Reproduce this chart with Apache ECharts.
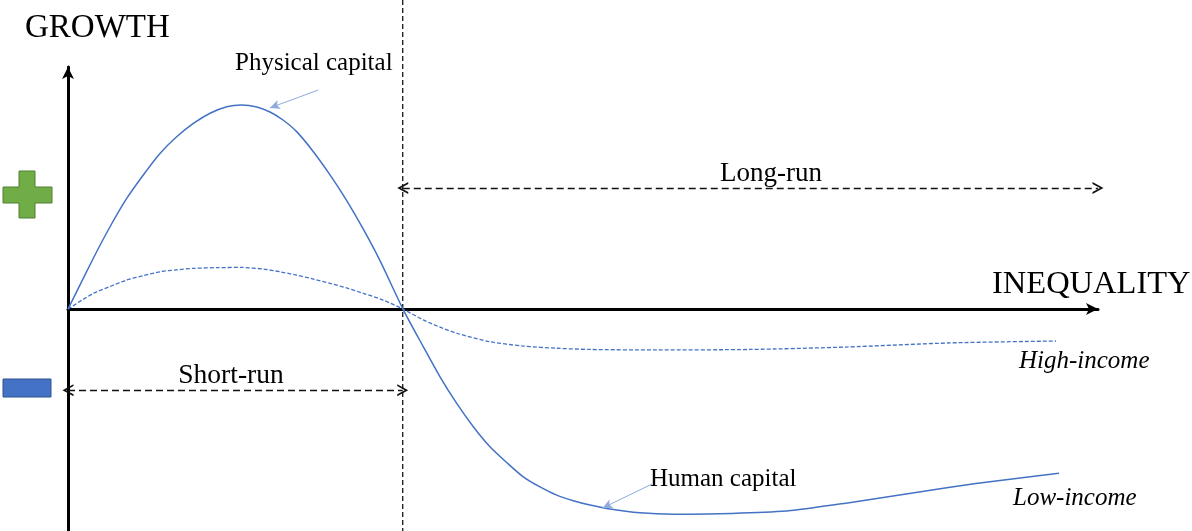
<!DOCTYPE html>
<html><head><meta charset="utf-8">
<script src="https://cdn.jsdelivr.net/npm/echarts@6/dist/echarts.min.js"></script>
<style>html,body{margin:0;padding:0;background:#fff}#c{width:1192px;height:531px}</style>
</head><body><div id="c"></div>
<script>
// Physical / human capital curve (solid) — low-income
const solidX = [0, 2.46, 4.08, 5.70, 7.31, 8.93, 10.55, 12.17, 13.79, 15.41, 16.86, 18.33, 19.61, 20.87, 22.2, 23.82, 25.44, 27.06, 28.67, 30.29, 32.52, 34.5, 36.12, 37.74, 39.35, 40.97, 42.59, 44.2, 45.83, 47.45, 49.06, 50.68, 52.3, 55.53, 58.77, 62.01, 66.21, 70.49, 75.53, 80.58, 85.63, 90.68, 96.21];
const solidY = [0, 2.10, 3.40, 4.57, 5.54, 6.43, 7.12, 7.67, 8.09, 8.36, 8.43, 8.35, 8.14, 7.81, 7.33, 6.50, 5.54, 4.48, 3.30, 2.00, 0, -1.56, -2.80, -3.90, -4.86, -5.69, -6.34, -6.93, -7.35, -7.69, -7.92, -8.10, -8.24, -8.42, -8.48, -8.47, -8.42, -8.31, -8.02, -7.69, -7.36, -7.07, -6.78];
// Dashed curve — high-income
const dashX = [0, 2.46, 4.08, 5.70, 7.31, 8.93, 10.55, 12.17, 14.47, 16.86, 18.96, 20.58, 22.2, 23.82, 25.44, 27.06, 28.67, 30.6, 32.52, 34.5, 36.12, 37.74, 40.97, 44.2, 47.45, 50.68, 57.15, 66.21, 75.53, 85.63, 95.92];
const dashY = [0, 0.65, 0.93, 1.20, 1.38, 1.54, 1.62, 1.68, 1.71, 1.72, 1.65, 1.54, 1.40, 1.24, 1.06, 0.87, 0.65, 0.37, 0, -0.45, -0.75, -1.00, -1.35, -1.53, -1.62, -1.67, -1.69, -1.67, -1.57, -1.40, -1.32];
// Key positions (data units)
const splitX = 32.5;          // short-run / long-run boundary
const xMax = 100, yMin = -9.17, yMax = 10;
const shortRunY = -3.35, longRunY = 5.0;
const physArrow = [[24.3, 9.05], [19.6, 8.31]];
const humanArrow = [[56.7, -7.23], [51.9, -8.22]];

const serif = '"Liberation Serif", "DejaVu Serif", serif';
const blue = '#4472c4';
const chevron = 'path://M0,10 L5,0 L10,10 L8.4,10 L5,3.2 L1.6,10 Z';
const dashStyle = {color: '#111', width: 1.3, type: [7, 4]};
const chevSize = [12, 11];

const chart = echarts.init(document.getElementById('c'), null, {renderer: 'canvas'});
chart.setOption({
  animation: false,
  grid: {left: 68, right: 94, top: 67, bottom: 0, containLabel: false},
  xAxis: {type: 'value', min: 0, max: xMax,
    axisLine: {show: true, onZero: true, symbol: ['none', 'arrow'], symbolSize: [9, 12], lineStyle: {color: '#000', width: 3}},
    axisTick: {show: false}, axisLabel: {show: false}, splitLine: {show: false}},
  yAxis: {type: 'value', min: yMin, max: yMax,
    axisLine: {show: true, onZero: false, symbol: ['none', 'arrow'], symbolSize: [9, 12], lineStyle: {color: '#000', width: 3}},
    axisTick: {show: false}, axisLabel: {show: false}, splitLine: {show: false}},
  series: [
    {type: 'line', name: 'Low-income', smooth: 0.25, showSymbol: false, silent: true,
     data: solidX.map((x, i) => [x, solidY[i]]),
     lineStyle: {color: blue, width: 1.5, join: 'round'}},
    {type: 'line', name: 'High-income', smooth: 0.25, showSymbol: false, silent: true,
     data: dashX.map((x, i) => [x, dashY[i]]),
     lineStyle: {color: blue, width: 1.3, type: [4, 2], join: 'round'}},
    {type: 'line', data: [], clip: false, silent: true,
     markLine: {silent: true, animation: false, label: {show: false}, emphasis: {disabled: true},
       symbol: 'none',
       data: [
         [{coord: [0, shortRunY], symbol: chevron, symbolSize: chevSize, lineStyle: dashStyle},
          {coord: [splitX, shortRunY], symbol: chevron, symbolSize: chevSize}],
         [{coord: [splitX, longRunY], symbol: chevron, symbolSize: chevSize, lineStyle: dashStyle},
          {coord: [xMax, longRunY], symbol: chevron, symbolSize: chevSize}],
         [{coord: physArrow[0], symbol: 'none', lineStyle: {color: '#8faadc', width: 1, type: 'solid'}},
          {coord: physArrow[1], symbol: 'arrow', symbolSize: [7, 10], itemStyle: {color: blue}}],
         [{coord: humanArrow[0], symbol: 'none', lineStyle: {color: '#8faadc', width: 1, type: 'solid'}},
          {coord: humanArrow[1], symbol: 'arrow', symbolSize: [7, 10], itemStyle: {color: blue}}]
       ]}}
  ],
  graphic: [
    {type: 'text', x: 25, y: 28, style: {text: 'GROWTH', font: '33px ' + serif, fill: '#000', textVerticalAlign: 'middle'}},
    {type: 'text', x: 992, y: 284, style: {text: 'INEQUALITY', font: '32.5px ' + serif, fill: '#000', textVerticalAlign: 'middle'}},
    {type: 'text', x: 235, y: 63, style: {text: 'Physical capital', font: '25px ' + serif, fill: '#000', textVerticalAlign: 'middle'}},
    {type: 'text', x: 771, y: 174, style: {text: 'Long-run', font: '27px ' + serif, fill: '#000', textAlign: 'center', textVerticalAlign: 'middle'}},
    {type: 'text', x: 231, y: 376, style: {text: 'Short-run', font: '27.5px ' + serif, fill: '#000', textAlign: 'center', textVerticalAlign: 'middle'}},
    {type: 'text', x: 650, y: 479, style: {text: 'Human capital', font: '25px ' + serif, fill: '#000', textVerticalAlign: 'middle'}},
    {type: 'text', x: 1019, y: 361, style: {text: 'High-income', font: 'italic 25px ' + serif, fill: '#000', textVerticalAlign: 'middle'}},
    {type: 'text', x: 1013, y: 498, style: {text: 'Low-income', font: 'italic 25px ' + serif, fill: '#000', textVerticalAlign: 'middle'}},
    {type: 'polygon', shape: {points: [[19,171],[35,171],[35,187],[52,187],[52,203],[35,203],[35,218],[19,218],[19,203],[3,203],[3,187],[19,187]]},
     style: {fill: '#70ad47', stroke: '#507e32', lineWidth: 1}},
    {type: 'rect', shape: {x: 3, y: 379, width: 48, height: 18}, style: {fill: '#4472c4', stroke: '#2f528f', lineWidth: 1}},
    {type: 'line', id: 'split', shape: {x1: 0, y1: 0, x2: 0, y2: 0}, style: {stroke: '#000', lineWidth: 1.2, lineDash: [5, 3]}}
  ]
});
// Vertical boundary line at splitX, spanning the full height (placed through the x scale)
const sx = chart.convertToPixel({gridIndex: 0}, [splitX, 0])[0];
chart.setOption({graphic: [{id: 'split', shape: {x1: sx, y1: 0, x2: sx, y2: chart.getHeight()}}]});
</script></body></html>
